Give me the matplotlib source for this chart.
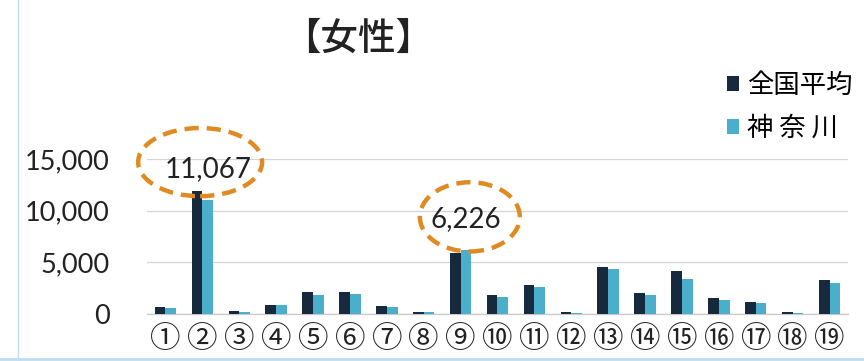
import matplotlib.pyplot as plt
from matplotlib.patches import Ellipse
from matplotlib.lines import Line2D
import numpy as np

# data
labels = ['①', '②', '③', '④', '⑤', '⑥', '⑦', '⑧', '⑨', '⑩',
          '⑪', '⑫', '⑬', '⑭', '⑮', '⑯', '⑰', '⑱', '⑲']
zenkoku = [640, 11900, 330, 870, 2100, 2100, 740, 150, 5900, 1820,
           2760, 160, 4540, 2010, 4120, 1560, 1140, 160, 3250]
kanagawa = [540, 11067, 220, 830, 1870, 1970, 690, 230, 6226, 1655,
            2660, 130, 4350, 1850, 3410, 1400, 1100, 130, 3020]
series_names = ['全国平均', '神 奈 川']
yticks = [0, 5000, 10000, 15000]
# highlighted values (category index, text)
highlights = [(1, '11,067'), (8, '6,226')]

dark = '#17293C'
light = '#4BAECB'
orange = '#E08B22'
cjk = ['Noto Sans CJK JP', 'DejaVu Sans']
num_font = 'Lato'

fig = plt.figure(figsize=(8.64, 3.61), dpi=100)
ax = fig.add_axes([147 / 864, 47 / 361, 701 / 864, 155 / 361])

x = np.arange(len(labels))
w = 0.29
ax.bar(x - w / 2, zenkoku, w, color=dark, label=series_names[0], zorder=3)
ax.bar(x + w / 2, kanagawa, w, color=light, label=series_names[1], zorder=3)

ax.set_xlim(-0.5, len(labels) - 0.5)
ax.set_ylim(0, 15000)
ax.set_yticks(yticks)
ax.set_yticklabels([f'{v:,}' for v in yticks], fontsize=19.5, family=num_font, color='#222222')
ax.set_xticks(x)
ax.set_xticklabels(labels, fontsize=22, family=cjk, color='#222222')
ax.tick_params(axis='y', length=0, pad=27)
ax.tick_params(axis='x', length=0, pad=7)
ax.grid(axis='y', color='#D4D4D4', linewidth=0.9, zorder=0)
for s in ['top', 'right', 'left']:
    ax.spines[s].set_visible(False)
ax.spines['bottom'].set_color('#C8C8C8')
ax.spines['bottom'].set_linewidth(0.9)

# dashed ellipses around highlighted values
for i, txt in highlights:
    if i == 1:
        cx, cy, ew, eh = i - 0.06, 14700, 3.36, 6600
        tx, ty = i + 0.15, 14050
    else:
        cx, cy, ew, eh = i + 0.25, 9400, 2.71, 6700
        tx, ty = i + 0.14, 9200
    ax.add_patch(Ellipse((cx, cy), ew, eh, fill=False, edgecolor=orange,
                         linewidth=3.2, linestyle=(0, (3.2, 1.8)),
                         clip_on=False, zorder=5))
    ax.text(tx, ty, txt, ha='center', va='center', fontsize=20,
            family=num_font, color='#222222', clip_on=False, zorder=6)

fig.text(358 / 864, 1 - 39 / 361, '【女性】', ha='center', va='center',
         fontsize=27, family=cjk, weight='medium', color='#222222')

fig.legend(loc='upper left', bbox_to_anchor=(703 / 864, 1 - 48 / 361),
           frameon=False, handlelength=0.48, handleheight=0.48,
           handletextpad=0.3, labelspacing=0.6,
           prop={'family': cjk, 'size': 19})

# scan edges
fig.add_artist(Line2D([18 / 864, 18 / 864], [0, 1], color='#BFDDF0', linewidth=1))
fig.add_artist(Line2D([0, 1], [2 / 361, 2 / 361], color='#BFDDF0', linewidth=2))

fig.savefig('out.png', dpi=100, facecolor='white')
